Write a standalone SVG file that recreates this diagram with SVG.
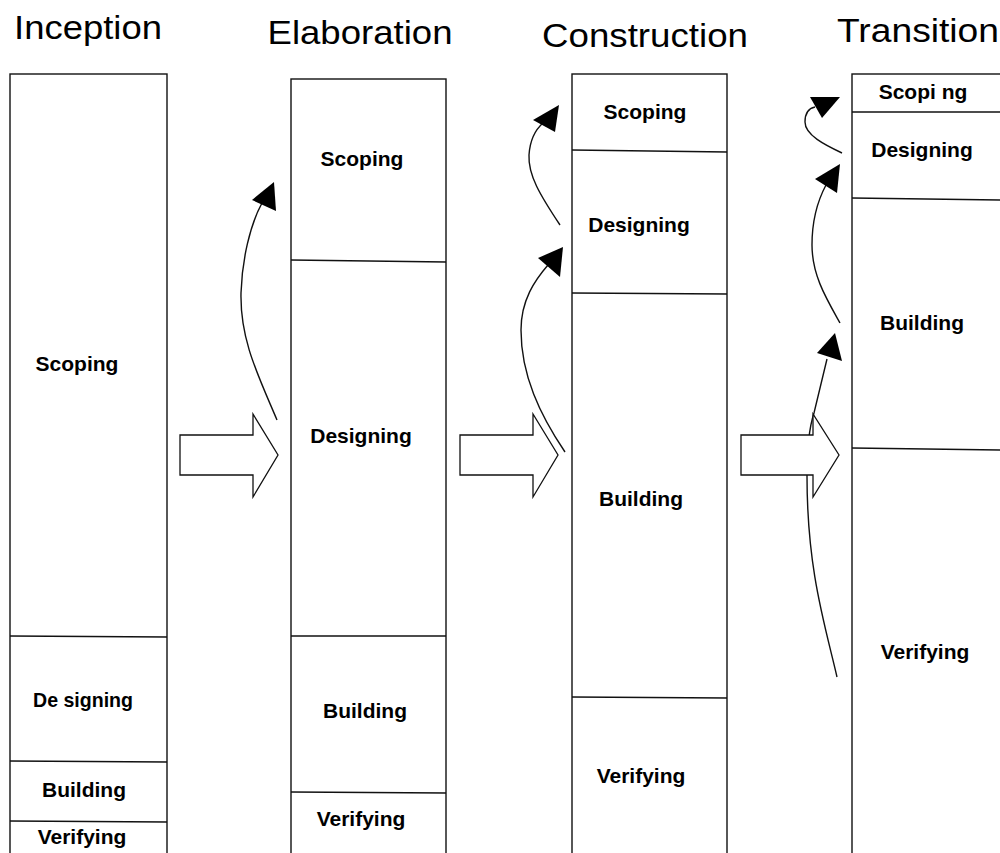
<svg xmlns="http://www.w3.org/2000/svg" width="1000" height="853" viewBox="0 0 1000 853">
<style>
.col{fill:#fff;stroke:#111;stroke-width:1.4}
.div{stroke:#111;stroke-width:1.3;fill:none}
.title{font-family:"Liberation Sans",Arial,sans-serif;font-size:34px;fill:#000;text-anchor:middle}
.lbl{font-family:"Liberation Sans",Arial,sans-serif;font-size:21px;font-weight:bold;fill:#000;text-anchor:middle}
.blk{fill:#fff;stroke:#111;stroke-width:1.3;stroke-linejoin:miter}
.crv{fill:none;stroke:#111;stroke-width:1.4}
.head{fill:#000;stroke:none}
</style>
<rect width="1000" height="853" fill="#fff"/>
<g id="titles">
<text class="title" x="88" y="39" textLength="148" lengthAdjust="spacingAndGlyphs">Inception</text>
<text class="title" x="360" y="44" textLength="185" lengthAdjust="spacingAndGlyphs">Elaboration</text>
<text class="title" x="645" y="47" textLength="206" lengthAdjust="spacingAndGlyphs">Construction</text>
<text class="title" x="918" y="42" textLength="162" lengthAdjust="spacingAndGlyphs">Transition</text>
</g>
<g id="inception">
<rect class="col" x="10" y="74" width="157" height="790"/>
<line class="div" x1="10" y1="636" x2="167" y2="637"/>
<line class="div" x1="10" y1="761" x2="167" y2="762"/>
<line class="div" x1="10" y1="821" x2="167" y2="822"/>
<text class="lbl" x="77" y="371">Scoping</text>
<text class="lbl" x="83" y="707" textLength="100" lengthAdjust="spacingAndGlyphs">De signing</text>
<text class="lbl" x="84" y="797">Building</text>
<text class="lbl" x="82" y="844">Verifying</text>
</g>
<g id="elaboration">
<rect class="col" x="291" y="79" width="155" height="790"/>
<line class="div" x1="291" y1="260" x2="446" y2="262"/>
<line class="div" x1="291" y1="636" x2="446" y2="636"/>
<line class="div" x1="291" y1="792" x2="446" y2="793"/>
<text class="lbl" x="362" y="166">Scoping</text>
<text class="lbl" x="361" y="443">Designing</text>
<text class="lbl" x="365" y="718">Building</text>
<text class="lbl" x="361" y="826">Verifying</text>
</g>
<g id="construction">
<rect class="col" x="572" y="74" width="155" height="790"/>
<line class="div" x1="572" y1="150" x2="727" y2="152"/>
<line class="div" x1="572" y1="293" x2="727" y2="294"/>
<line class="div" x1="572" y1="697" x2="727" y2="698"/>
<text class="lbl" x="645" y="119">Scoping</text>
<text class="lbl" x="639" y="232">Designing</text>
<text class="lbl" x="641" y="506">Building</text>
<text class="lbl" x="641" y="783">Verifying</text>
</g>
<g id="transition">
<rect class="col" x="852" y="74" width="160" height="790"/>
<line class="div" x1="852" y1="112" x2="1000" y2="112"/>
<line class="div" x1="852" y1="198" x2="1000" y2="200"/>
<line class="div" x1="852" y1="448" x2="1000" y2="450"/>
<text class="lbl" x="923" y="99">Scopi ng</text>
<text class="lbl" x="922" y="157">Designing</text>
<text class="lbl" x="922" y="330">Building</text>
<text class="lbl" x="925" y="659">Verifying</text>
</g>
<g id="connectors">
<path class="crv" d="M277,420 C258,375 240,340 241,293 C242,260 250,225 262,203"/>
<polygon class="head" points="252,200 274,182 276,211"/>
<path class="crv" d="M565,452 C540,415 521,375 521,330 C521,300 535,280 548,265"/>
<polygon class="head" points="538,258 563,247 560,277"/>
<path class="crv" d="M560,225 C540,195 528,175 529,155 C530,140 535,130 543,123"/>
<polygon class="head" points="533,120 559,105 555,132"/>
<path class="crv" d="M842,153 C825,145 805,135 805,122 C805,112 810,108 815,107"/>
<polygon class="head" points="810,97 840,97 822,118"/>
<path class="crv" d="M840,323 C826,298 812,275 812,245 C812,220 818,200 826,185"/>
<polygon class="head" points="815,179 840,164 837,193"/>
<path class="crv" d="M837,677 C825,625 807,570 807,476 C807,440 810,425 814,413 L827,359"/>
<polygon class="head" points="817,353 835,333 842,361"/>
</g>
<g id="arrow1">
<polygon class="blk" points="180,435 253,435 253,414 278,455 253,497 253,475 180,475"/>
</g>
<g id="arrow2">
<polygon class="blk" points="460,435 533,435 533,414 558,455 533,497 533,475 460,475"/>
</g>
<g id="arrow3">
<polygon class="blk" points="741,435 813,435 813,414 839,455 813,497 813,475 741,475"/>
</g>
</svg>
